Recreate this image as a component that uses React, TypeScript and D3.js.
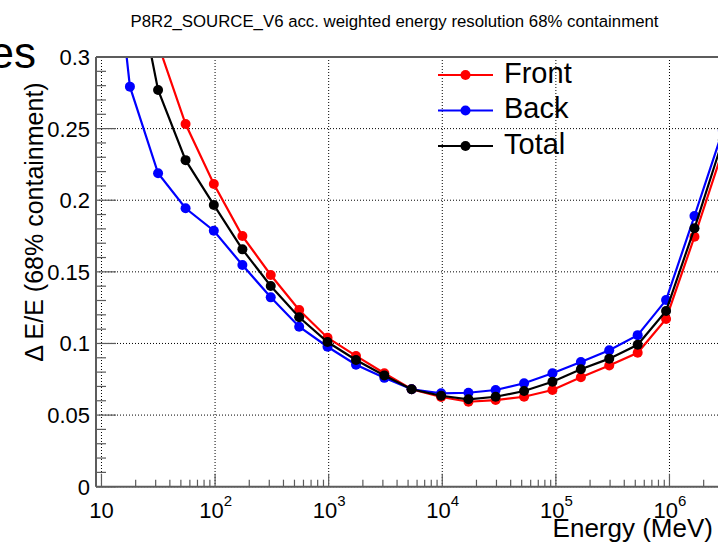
import React from 'react';
import * as d3 from 'd3';

// energies (MeV) of the points
const energies = [10, 17.8, 31.5, 55, 97.5, 174, 309, 550, 977, 1740, 3090, 5370, 9770,
  17000, 29500, 52500, 93300, 166000, 295000, 525000, 933000, 1660000, 2950000];

// resolution values, null where the graph has no point
const front = [null, null, 0.309, 0.2532, 0.2113, 0.175, 0.1478, 0.1234, 0.104, 0.0913, 0.0792, 0.068, 0.0626,
  0.0593, 0.0605, 0.0628, 0.0675, 0.0764, 0.0846, 0.0935, 0.1171, 0.1745, 0.2349];
const back = [0.46, 0.2793, 0.2188, 0.1944, 0.1787, 0.1548, 0.1322, 0.1117, 0.0977, 0.0852, 0.076, 0.068, 0.0652,
  0.0656, 0.0675, 0.0722, 0.0792, 0.087, 0.0952, 0.1058, 0.1303, 0.189, 0.2488];
const total = [null, 0.376, 0.277, 0.228, 0.1967, 0.1657, 0.1401, 0.1183, 0.101, 0.0885, 0.0777, 0.068, 0.0635,
  0.061, 0.0628, 0.0668, 0.0733, 0.082, 0.0894, 0.0991, 0.1227, 0.1804, 0.2421];

const seriesNames = ['Front', 'Back', 'Total'];
const seriesColors = ['#ff0000', '#0000ff', '#000000'];
const yTickValues = [0, 0.05, 0.1, 0.15, 0.2, 0.25, 0.3];

const title = 'P8R2_SOURCE_V6 acc. weighted energy resolution 68% containment';
const xTitle = 'Energy (MeV)';
const yTitle = '\u0394 E/E (68% containment)';

const W = 718;
const H = 543;
const FONT = '"Liberation Sans", Arial, Helvetica, sans-serif';

export default function App() {
  const left = 96;
  const top = 57;
  const bottom = 486.7;
  const decade = 113.6;
  const xMin = 8.95;
  const xMax = 4e6;
  const right = left + decade * Math.log10(xMax / xMin);

  const x = d3.scaleLog().domain([xMin, xMax]).range([left, right]);
  const y = d3.scaleLinear().domain([0, 0.3]).range([bottom, top]);

  const data = [front, back, total];

  const line = d3.line<[number, number | null]>()
    .defined(d => d[1] != null)
    .x(d => x(d[0]))
    .y(d => y(d[1] as number));

  const allTicks = x.ticks();
  const decades = allTicks.filter(t => Math.abs(Math.log10(t) - Math.round(Math.log10(t))) < 1e-9);
  const minors = allTicks.filter(t => !decades.includes(t));
  const yMinor = y.ticks(30);

  const dotted = { stroke: '#000', strokeWidth: 1, strokeDasharray: '1,2' };
  const frameColor = '#5c5c5c';

  // legend placement
  const legX0 = 438;
  const legX1 = 493;
  const legY0 = 75;
  const legDy = 35.5;

  return (
    <svg width={W} height={H} style={{ position: 'absolute', left: 0, top: 0, background: '#fff' }}
      fontFamily={FONT}>
      <defs>
        <clipPath id="plotClip">
          <rect x={left} y={top} width={right - left} height={bottom - top} />
        </clipPath>
      </defs>

      {/* leftover text from the neighbouring pad */}
      <text x={36} y={68} fontSize={44} textAnchor="end">es</text>

      <text x={394.5} y={27} fontSize={16.8} textAnchor="middle">{title}</text>

      {/* grid */}
      {decades.map(t => (
        <line key={'gx' + t} x1={x(t)} x2={x(t)} y1={top} y2={bottom} {...dotted} />
      ))}
      {yTickValues.map(t => (
        <line key={'gy' + t} x1={left} x2={right} y1={y(t)} y2={y(t)} {...dotted} />
      ))}

      {/* y ticks */}
      {yMinor.map(t => {
        const major = yTickValues.some(v => Math.abs(v - t) < 1e-9);
        return (
          <line key={'yt' + t} x1={left} x2={left + (major ? 20 : 10)} y1={y(t)} y2={y(t)}
            stroke={frameColor} strokeWidth={1.2} />
        );
      })}
      {yTickValues.map(t => (
        <text key={'yl' + t} x={90} y={y(t)} dy="0.36em" fontSize={22} textAnchor="end">
          {String(+t.toFixed(2))}
        </text>
      ))}

      {/* x ticks */}
      {minors.map(t => (
        <line key={'xm' + t} x1={x(t)} x2={x(t)} y1={bottom} y2={bottom - 7} stroke={frameColor} strokeWidth={1.2} />
      ))}
      {decades.map(t => (
        <line key={'xM' + t} x1={x(t)} x2={x(t)} y1={bottom} y2={bottom - 13} stroke={frameColor} strokeWidth={1.2} />
      ))}
      {decades.map(t => {
        const p = Math.round(Math.log10(t));
        if (p === 1) {
          return <text key={'xl' + t} x={x(t)} y={518} fontSize={22} textAnchor="middle">10</text>;
        }
        return (
          <text key={'xl' + t} x={x(t) + 0.5} y={518} fontSize={22} textAnchor="middle">
            10<tspan fontSize={15} dy={-12}>{p}</tspan>
          </text>
        );
      })}

      {/* series */}
      <g clipPath="url(#plotClip)">
        {data.map((vals, si) => {
          const pts = energies.map((e, i) => [e, vals[i]] as [number, number | null]);
          return (
            <g key={seriesNames[si]}>
              <path d={line(pts) || ''} fill="none" stroke={seriesColors[si]} strokeWidth={2.2} />
              {pts.filter(p => p[1] != null).map((p, i) => (
                <circle key={i} cx={x(p[0])} cy={y(p[1] as number)} r={5} fill={seriesColors[si]} />
              ))}
            </g>
          );
        })}
      </g>

      {/* frame */}
      <line x1={left} x2={right} y1={top} y2={top} stroke={frameColor} strokeWidth={2} />
      <line x1={left} x2={right} y1={bottom} y2={bottom} stroke={frameColor} strokeWidth={2} />
      <line x1={left} x2={left} y1={top} y2={bottom} stroke={frameColor} strokeWidth={2} />

      {/* legend */}
      {seriesNames.map((name, i) => {
        const ly = legY0 + i * legDy;
        return (
          <g key={'leg' + name}>
            <line x1={legX0} x2={legX1} y1={ly} y2={ly} stroke={seriesColors[i]} strokeWidth={2.2} />
            <circle cx={(legX0 + legX1) / 2} cy={ly} r={5} fill={seriesColors[i]} />
            <text x={504} y={ly + 7.5} fontSize={29}>{name}</text>
          </g>
        );
      })}

      <text x={713} y={537} fontSize={26} textAnchor="end">{xTitle}</text>
      <text transform="translate(43,222) rotate(-90)" fontSize={25} textAnchor="middle">{yTitle}</text>
    </svg>
  );
}
